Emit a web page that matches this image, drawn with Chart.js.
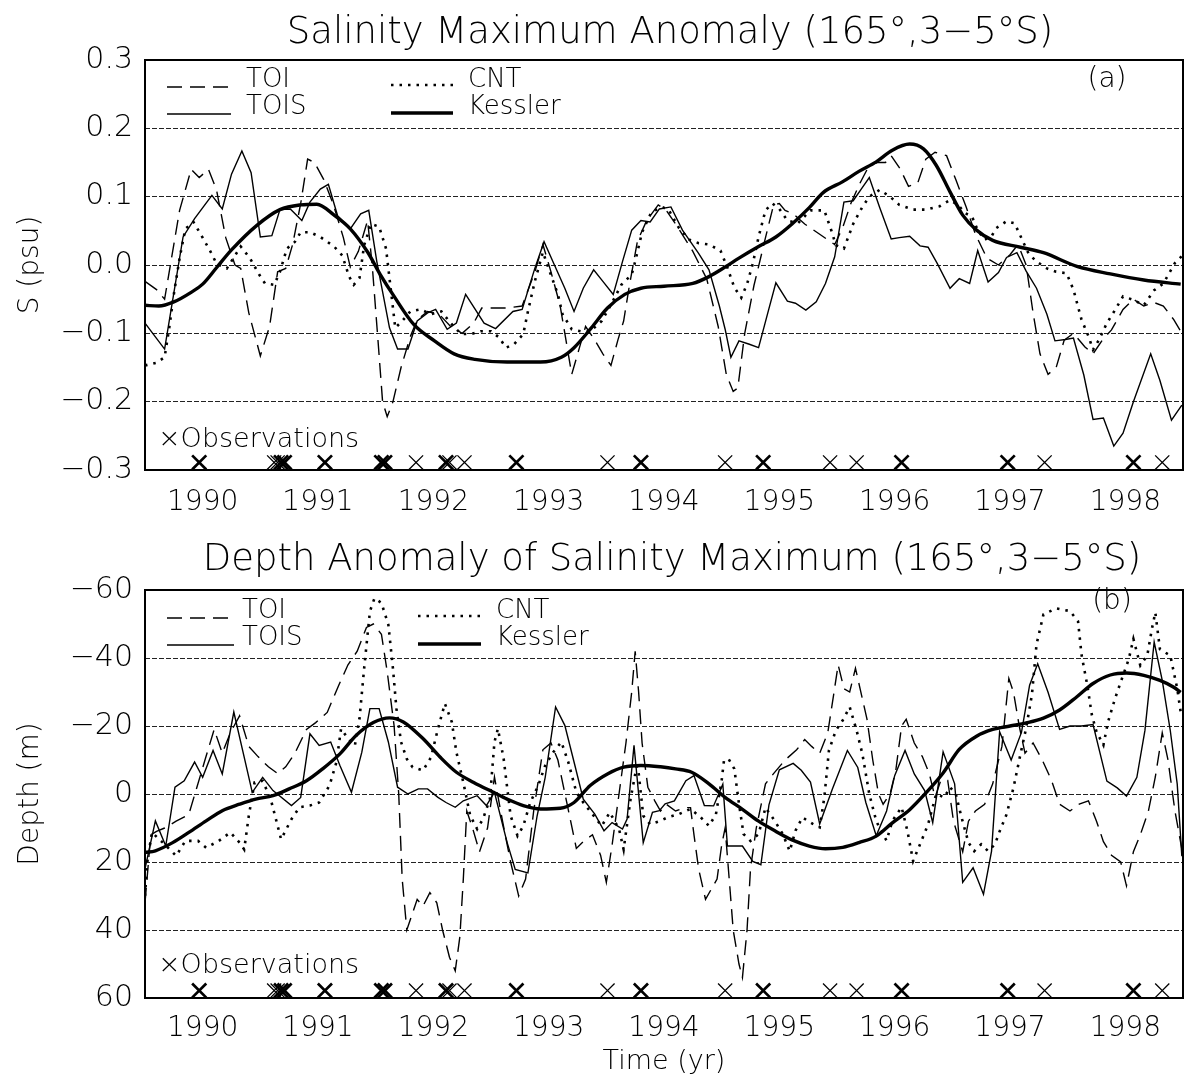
<!DOCTYPE html>
<html><head><meta charset="utf-8">
<script src="https://cdn.jsdelivr.net/npm/chart.js@4.4.1/dist/chart.umd.min.js"></script>
<style>
html,body{margin:0;padding:0;background:#fff;}
#wrap{position:relative;width:1185px;height:1081px;overflow:hidden;background:#fff;}
canvas{position:absolute;left:0;}
#c1{top:0;width:1185px;height:530px;}
#c2{top:530px;width:1185px;height:551px;}
</style></head><body>
<div id="wrap"><canvas id="c1" width="1185" height="530"></canvas><canvas id="c2" width="1185" height="551"></canvas></div>
<script>
const FONT = "'DejaVu Sans', 'Liberation Sans', sans-serif";
const FW = 200;

// ---- axis tick values ----
const tickYears = [1990,1991,1992,1993,1994,1995,1996,1997,1998];
const salTicks = [-0.3,-0.2,-0.1,0,0.1,0.2,0.3];
const depthTicks = [-60,-40,-20,0,20,40,60];

// ---- observation times (multiplicity -> bolder X) ----
const obsYears = [1990.47,1991.12,1991.15,1991.18,1991.21,1991.56,1992.05,1992.08,1992.35,1992.61,1992.64,1992.77,1993.22,1994.01,1994.30,1995.03,1995.36,1995.94,1996.17,1996.56,1997.48,1997.80,1998.57,1998.82];
const obsCount = [2,1,1,2,2,2,2,2,1,2,1,1,2,1,2,1,2,1,1,2,2,1,2,1];

// ---- (a) salinity maximum anomaly (psu) ----
const salTOI = [[1990.00,-0.024],[1990.10,-0.036],[1990.17,-0.050],[1990.30,0.080],[1990.40,0.140],[1990.47,0.128],[1990.55,0.140],[1990.62,0.110],[1990.70,0.040],[1990.78,0.000],[1990.83,-0.005],[1990.90,-0.070],[1991.00,-0.133],[1991.08,-0.090],[1991.15,-0.010],[1991.22,-0.005],[1991.28,0.030],[1991.35,0.090],[1991.41,0.155],[1991.47,0.150],[1991.55,0.125],[1991.63,0.090],[1991.72,0.040],[1991.78,-0.003],[1991.85,0.020],[1991.93,0.065],[1991.97,0.000],[1992.02,-0.110],[1992.06,-0.200],[1992.10,-0.222],[1992.15,-0.200],[1992.22,-0.150],[1992.30,-0.105],[1992.36,-0.080],[1992.45,-0.068],[1992.55,-0.072],[1992.65,-0.090],[1992.75,-0.100],[1992.85,-0.085],[1992.92,-0.063],[1993.13,-0.063],[1993.27,-0.060],[1993.38,-0.010],[1993.45,0.030],[1993.52,-0.010],[1993.60,-0.060],[1993.67,-0.130],[1993.70,-0.160],[1993.76,-0.125],[1993.82,-0.090],[1993.90,-0.110],[1993.97,-0.130],[1994.04,-0.147],[1994.10,-0.110],[1994.15,-0.082],[1994.20,-0.030],[1994.27,0.035],[1994.35,0.065],[1994.45,0.088],[1994.52,0.080],[1994.62,0.055],[1994.75,0.020],[1994.87,-0.020],[1994.97,-0.090],[1995.04,-0.160],[1995.10,-0.185],[1995.14,-0.180],[1995.20,-0.100],[1995.28,-0.030],[1995.38,0.040],[1995.45,0.088],[1995.50,0.090],[1995.55,0.080],[1995.62,0.075],[1995.72,0.060],[1995.85,0.045],[1995.98,0.030],[1996.05,0.055],[1996.12,0.090],[1996.20,0.120],[1996.28,0.146],[1996.35,0.150],[1996.42,0.150],[1996.47,0.160],[1996.55,0.140],[1996.62,0.115],[1996.70,0.120],[1996.77,0.155],[1996.85,0.165],[1996.95,0.160],[1997.03,0.125],[1997.12,0.085],[1997.20,0.045],[1997.30,0.010],[1997.40,0.000],[1997.50,0.015],[1997.57,0.030],[1997.64,0.000],[1997.70,-0.070],[1997.76,-0.130],[1997.83,-0.160],[1997.90,-0.150],[1997.97,-0.110],[1998.05,-0.100],[1998.15,-0.120],[1998.22,-0.130],[1998.30,-0.110],[1998.38,-0.095],[1998.48,-0.065],[1998.57,-0.050],[1998.66,-0.060],[1998.75,-0.055],[1998.83,-0.060],[1998.92,-0.080],[1998.99,-0.100]];
const salTOIS = [[1990.00,-0.085],[1990.17,-0.123],[1990.33,0.041],[1990.43,0.068],[1990.58,0.102],[1990.67,0.082],[1990.75,0.133],[1990.84,0.167],[1990.92,0.135],[1991.00,0.041],[1991.10,0.043],[1991.17,0.081],[1991.26,0.082],[1991.36,0.065],[1991.43,0.092],[1991.52,0.111],[1991.59,0.118],[1991.67,0.072],[1991.78,0.053],[1991.87,0.075],[1991.94,0.080],[1992.01,0.005],[1992.12,-0.092],[1992.19,-0.123],[1992.28,-0.123],[1992.36,-0.082],[1992.45,-0.070],[1992.52,-0.065],[1992.62,-0.094],[1992.70,-0.085],[1992.78,-0.043],[1992.94,-0.085],[1993.04,-0.093],[1993.19,-0.068],[1993.27,-0.065],[1993.38,-0.005],[1993.46,0.034],[1993.55,0.000],[1993.64,-0.034],[1993.72,-0.068],[1993.80,-0.034],[1993.89,-0.007],[1993.97,-0.024],[1994.06,-0.043],[1994.14,0.005],[1994.22,0.051],[1994.30,0.065],[1994.38,0.063],[1994.46,0.082],[1994.56,0.085],[1994.66,0.051],[1994.80,0.017],[1994.89,-0.007],[1994.98,-0.060],[1995.03,-0.094],[1995.08,-0.135],[1995.15,-0.111],[1995.24,-0.116],[1995.32,-0.121],[1995.40,-0.070],[1995.47,-0.026],[1995.57,-0.053],[1995.64,-0.056],[1995.73,-0.066],[1995.82,-0.054],[1995.90,-0.027],[1995.98,0.012],[1996.06,0.092],[1996.14,0.094],[1996.21,0.111],[1996.28,0.128],[1996.37,0.084],[1996.47,0.038],[1996.54,0.040],[1996.63,0.042],[1996.72,0.028],[1996.79,0.026],[1996.87,0.002],[1996.98,-0.034],[1997.06,-0.020],[1997.15,-0.027],[1997.22,0.021],[1997.31,-0.025],[1997.40,-0.011],[1997.47,0.011],[1997.56,0.018],[1997.64,-0.009],[1997.73,-0.034],[1997.82,-0.072],[1997.89,-0.111],[1997.98,-0.109],[1998.05,-0.107],[1998.14,-0.161],[1998.22,-0.226],[1998.31,-0.224],[1998.40,-0.265],[1998.48,-0.246],[1998.57,-0.200],[1998.72,-0.130],[1998.80,-0.169],[1998.90,-0.227],[1998.99,-0.205]];
const salCNT = [[1990.00,-0.147],[1990.10,-0.143],[1990.17,-0.135],[1990.21,-0.092],[1990.25,-0.043],[1990.30,0.010],[1990.35,0.053],[1990.42,0.063],[1990.49,0.043],[1990.57,0.019],[1990.62,0.002],[1990.71,-0.005],[1990.83,0.027],[1990.91,0.010],[1990.99,-0.014],[1991.04,-0.027],[1991.12,-0.029],[1991.17,-0.010],[1991.23,0.024],[1991.30,0.034],[1991.35,0.048],[1991.43,0.048],[1991.52,0.041],[1991.64,0.027],[1991.71,0.014],[1991.77,-0.017],[1991.81,-0.029],[1991.86,-0.019],[1991.90,0.029],[1991.96,0.060],[1992.03,0.056],[1992.09,0.024],[1992.13,-0.034],[1992.17,-0.092],[1992.23,-0.082],[1992.30,-0.068],[1992.39,-0.065],[1992.48,-0.072],[1992.57,-0.068],[1992.65,-0.085],[1992.74,-0.101],[1992.83,-0.101],[1992.91,-0.097],[1993.00,-0.097],[1993.07,-0.106],[1993.13,-0.121],[1993.20,-0.116],[1993.28,-0.101],[1993.32,-0.068],[1993.38,-0.024],[1993.45,0.019],[1993.51,-0.010],[1993.58,-0.043],[1993.62,-0.072],[1993.70,-0.094],[1993.78,-0.097],[1993.86,-0.097],[1993.96,-0.082],[1994.04,-0.058],[1994.13,-0.029],[1994.22,-0.014],[1994.25,0.005],[1994.31,0.048],[1994.39,0.077],[1994.48,0.085],[1994.54,0.081],[1994.63,0.054],[1994.72,0.037],[1994.80,0.032],[1994.89,0.030],[1994.99,0.021],[1995.05,-0.004],[1995.11,-0.033],[1995.17,-0.048],[1995.22,-0.028],[1995.27,0.002],[1995.32,0.041],[1995.38,0.080],[1995.44,0.090],[1995.50,0.082],[1995.57,0.065],[1995.66,0.061],[1995.77,0.080],[1995.89,0.080],[1995.95,0.051],[1995.99,0.029],[1996.06,0.024],[1996.14,0.060],[1996.22,0.085],[1996.28,0.100],[1996.37,0.110],[1996.46,0.100],[1996.54,0.088],[1996.66,0.081],[1996.77,0.081],[1996.89,0.086],[1996.98,0.095],[1997.05,0.088],[1997.11,0.076],[1997.17,0.071],[1997.22,0.051],[1997.28,0.037],[1997.34,0.042],[1997.38,0.054],[1997.47,0.064],[1997.54,0.061],[1997.60,0.039],[1997.66,0.017],[1997.73,0.005],[1997.82,-0.005],[1997.90,-0.010],[1997.99,-0.012],[1998.05,-0.036],[1998.12,-0.080],[1998.18,-0.104],[1998.22,-0.124],[1998.27,-0.110],[1998.34,-0.085],[1998.41,-0.066],[1998.48,-0.046],[1998.57,-0.051],[1998.66,-0.059],[1998.75,-0.037],[1998.83,-0.027],[1998.93,0.003],[1998.99,0.013]];
const salKessler = [[1990.00,-0.059],[1990.12,-0.060],[1990.25,-0.054],[1990.40,-0.040],[1990.50,-0.028],[1990.62,-0.004],[1990.75,0.022],[1990.97,0.058],[1991.17,0.081],[1991.35,0.088],[1991.49,0.089],[1991.64,0.073],[1991.78,0.053],[1991.93,0.019],[1992.04,-0.014],[1992.16,-0.046],[1992.33,-0.087],[1992.51,-0.111],[1992.68,-0.130],[1992.86,-0.138],[1993.14,-0.142],[1993.43,-0.142],[1993.61,-0.135],[1993.72,-0.121],[1993.87,-0.092],[1994.01,-0.063],[1994.16,-0.043],[1994.30,-0.034],[1994.50,-0.031],[1994.75,-0.027],[1994.89,-0.017],[1995.03,-0.003],[1995.15,0.010],[1995.32,0.027],[1995.47,0.041],[1995.61,0.060],[1995.76,0.084],[1995.88,0.106],[1996.05,0.122],[1996.19,0.137],[1996.34,0.151],[1996.48,0.168],[1996.63,0.177],[1996.75,0.170],[1996.86,0.146],[1996.98,0.107],[1997.09,0.073],[1997.21,0.051],[1997.35,0.036],[1997.59,0.026],[1997.79,0.018],[1998.08,-0.002],[1998.37,-0.013],[1998.66,-0.022],[1998.98,-0.028]];

// ---- (b) depth anomaly of salinity maximum (m) ----
const depTOI = [[1990.00,32],[1990.05,12],[1990.10,11],[1990.17,10],[1990.27,8],[1990.38,6],[1990.45,-2],[1990.52,-10],[1990.60,-19],[1990.67,-12],[1990.74,-18],[1990.82,-23],[1990.90,-14],[1990.98,-11],[1991.07,-8],[1991.15,-6],[1991.22,-8],[1991.30,-12],[1991.40,-19],[1991.48,-21],[1991.58,-24],[1991.68,-32],[1991.76,-38],[1991.84,-42],[1991.92,-49],[1991.98,-50],[1992.05,-47],[1992.10,-36],[1992.16,-20],[1992.20,0],[1992.23,25],[1992.27,40],[1992.31,36],[1992.36,31],[1992.41,33],[1992.47,29],[1992.53,32],[1992.58,40],[1992.64,48],[1992.69,52],[1992.73,42],[1992.76,25],[1992.79,5],[1992.84,10],[1992.90,17],[1992.97,10],[1993.03,-5],[1993.10,8],[1993.17,20],[1993.24,30],[1993.30,25],[1993.37,5],[1993.45,-13],[1993.52,-15],[1993.58,-10],[1993.66,3],[1993.74,16],[1993.80,14],[1993.88,12],[1993.95,18],[1994.00,26],[1994.05,15],[1994.11,0],[1994.17,-15],[1994.22,-30],[1994.25,-42],[1994.28,-30],[1994.31,-15],[1994.36,-2],[1994.42,2],[1994.47,5],[1994.52,3],[1994.60,5],[1994.68,4],[1994.73,4],[1994.76,12],[1994.80,22],[1994.86,31],[1994.96,25],[1995.00,15],[1995.03,10],[1995.07,27],[1995.10,40],[1995.15,50],[1995.18,54],[1995.22,40],[1995.25,22],[1995.30,10],[1995.38,-3],[1995.45,-6],[1995.55,-10],[1995.65,-13],[1995.72,-16],[1995.78,-14],[1995.85,-12],[1995.92,-18],[1995.97,-29],[1996.01,-38],[1996.06,-31],[1996.11,-30],[1996.16,-37],[1996.20,-31],[1996.26,-22],[1996.31,-10],[1996.36,0],[1996.40,3],[1996.46,0],[1996.51,-7],[1996.56,-20],[1996.60,-22],[1996.67,-15],[1996.74,-11],[1996.80,-6],[1996.85,1],[1996.90,-4],[1996.96,-4],[1997.01,8],[1997.09,17],[1997.14,8],[1997.20,5],[1997.28,3],[1997.35,-3],[1997.43,-14],[1997.49,-34],[1997.53,-30],[1997.58,-20],[1997.63,-12],[1997.70,-15],[1997.78,-10],[1997.86,-4],[1997.93,3],[1998.02,5],[1998.10,3],[1998.18,2],[1998.25,8],[1998.31,14],[1998.38,18],[1998.46,20],[1998.51,27],[1998.57,17],[1998.63,12],[1998.70,5],[1998.76,-5],[1998.82,-18],[1998.87,-10],[1998.93,5],[1999.00,18]];
const depTOIS = [[1990.00,22],[1990.09,7.9],[1990.18,15.3],[1990.26,-2],[1990.34,-3.9],[1990.43,-9.4],[1990.50,-4.9],[1990.59,-12.8],[1990.67,-5.9],[1990.77,-24.1],[1990.85,-12.3],[1990.93,-0.5],[1991.02,-4.9],[1991.11,-1.0],[1991.27,3.4],[1991.35,1.0],[1991.43,-17.7],[1991.51,-14.3],[1991.61,-15.3],[1991.69,-8.4],[1991.79,-0.5],[1991.88,-12.3],[1991.95,-25.1],[1992.03,-25.1],[1992.11,-15.3],[1992.19,-2],[1992.28,0],[1992.37,-1.5],[1992.45,-1.5],[1992.54,1],[1992.61,2.5],[1992.69,3.9],[1992.76,2],[1992.80,1.5],[1992.88,0.5],[1992.96,3.4],[1993.03,-0.5],[1993.14,14.3],[1993.21,22.2],[1993.32,23.2],[1993.40,6.4],[1993.47,-4.9],[1993.56,-25.6],[1993.64,-20.2],[1993.72,-9.4],[1993.80,1.5],[1993.90,5.9],[1993.98,10.8],[1994.05,8.4],[1994.14,10.3],[1994.18,7.4],[1994.24,-14.3],[1994.32,14.3],[1994.40,5.4],[1994.46,4.9],[1994.51,2.9],[1994.59,2.0],[1994.69,-3.9],[1994.76,-5.4],[1994.85,3.4],[1994.93,3.5],[1995.01,-2.9],[1995.05,15.3],[1995.18,15.3],[1995.27,19.8],[1995.34,20.8],[1995.41,3.2],[1995.50,-7.1],[1995.62,-9.0],[1995.69,-7.0],[1995.77,-3.5],[1995.85,8.8],[1995.96,-1.5],[1996.09,-12.8],[1996.18,-7.8],[1996.25,2.5],[1996.34,12.3],[1996.43,5.0],[1996.50,-5.4],[1996.59,-12.8],[1996.67,-5.9],[1996.76,-1.0],[1996.83,8.4],[1996.92,-12.4],[1997.02,-3.0],[1997.09,26.0],[1997.18,21.7],[1997.27,29.5],[1997.34,16.8],[1997.41,-18.3],[1997.51,-10.0],[1997.60,-18.2],[1997.67,-32.0],[1997.74,-38.3],[1997.83,-29.9],[1997.93,-19.0],[1998.02,-20.0],[1998.12,-20.0],[1998.22,-20.4],[1998.34,-3.8],[1998.43,-1.8],[1998.51,0.6],[1998.60,-4.9],[1998.67,-18.7],[1998.75,-44.7],[1998.82,-33.4],[1998.89,-18.6],[1998.95,-2.9],[1998.99,18.3]];
const depCNT = [[1990.00,30],[1990.02,20],[1990.06,11.3],[1990.17,14.8],[1990.27,18.2],[1990.35,13.8],[1990.46,13.8],[1990.53,15.8],[1990.64,13.8],[1990.74,11.3],[1990.82,14.3],[1990.86,16.3],[1990.90,6.4],[1990.95,-3.4],[1991.02,-3.9],[1991.09,1.5],[1991.18,13.3],[1991.27,7.4],[1991.34,3.9],[1991.43,3.4],[1991.51,2.5],[1991.60,-2.5],[1991.66,-9.4],[1991.70,-19.2],[1991.76,-16.3],[1991.82,-14.3],[1991.86,-22.2],[1991.90,-36.9],[1991.95,-53.7],[1991.99,-57.6],[1992.05,-56.2],[1992.11,-49.8],[1992.15,-36.9],[1992.18,-25.1],[1992.22,-15.3],[1992.27,-10.3],[1992.32,-7.9],[1992.41,-6.9],[1992.48,-10.8],[1992.54,-19.2],[1992.60,-26.6],[1992.66,-21.2],[1992.70,-12.3],[1992.76,-3.4],[1992.82,6.4],[1992.88,10.3],[1992.93,7.4],[1992.99,1.5],[1993.03,-15.3],[1993.06,-19.2],[1993.11,-10.3],[1993.17,6.4],[1993.23,12.3],[1993.28,9.4],[1993.34,2.5],[1993.41,-2.5],[1993.47,-8.4],[1993.54,-12.3],[1993.61,-15.3],[1993.67,-9.4],[1993.74,-0.5],[1993.80,2.5],[1993.89,6.4],[1993.96,9.4],[1994.03,5.4],[1994.11,10.3],[1994.15,16.3],[1994.21,1.5],[1994.27,-9.4],[1994.32,6.4],[1994.38,8.9],[1994.46,8.0],[1994.53,6.9],[1994.63,5.9],[1994.73,4.4],[1994.82,6.9],[1994.89,9.4],[1994.95,6.0],[1995.00,-4.0],[1995.02,-9.8],[1995.06,-10.3],[1995.11,-7.4],[1995.15,2.9],[1995.19,11.8],[1995.25,13.8],[1995.32,11.8],[1995.38,4.0],[1995.46,7.9],[1995.53,11.8],[1995.59,16.8],[1995.64,10.8],[1995.70,6.9],[1995.79,8.8],[1995.85,9.8],[1995.89,1.0],[1995.93,-12.8],[1995.99,-18.7],[1996.05,-21.7],[1996.11,-25.6],[1996.17,-18.7],[1996.22,-11.8],[1996.28,0],[1996.34,7.9],[1996.38,10.8],[1996.43,13.7],[1996.48,7.9],[1996.56,3.9],[1996.61,10.8],[1996.66,19.7],[1996.72,14.8],[1996.79,8.9],[1996.86,0],[1996.93,1.0],[1996.98,-2.0],[1997.03,0],[1997.08,6.9],[1997.14,14.3],[1997.19,16.8],[1997.25,14.8],[1997.31,16.8],[1997.37,14.8],[1997.41,11.0],[1997.47,6.0],[1997.53,-1.8],[1997.59,-11.6],[1997.64,-19.4],[1997.69,-29.2],[1997.73,-44.0],[1997.79,-52.8],[1997.90,-54.6],[1998.02,-53.8],[1998.09,-50.8],[1998.12,-41.0],[1998.17,-32.0],[1998.21,-23.2],[1998.25,-18.3],[1998.31,-14.4],[1998.35,-21.2],[1998.41,-28.0],[1998.47,-33.9],[1998.53,-39.7],[1998.57,-45.6],[1998.63,-37.8],[1998.69,-40.7],[1998.73,-48.5],[1998.76,-53.4],[1998.80,-42.6],[1998.89,-40.7],[1998.95,-31.0],[1998.98,-24.1]];
const depKessler = [[1990.00,17.2],[1990.09,16.7],[1990.24,14.3],[1990.38,11.3],[1990.53,7.9],[1990.67,4.9],[1990.82,3.0],[1990.96,1.5],[1991.11,0.5],[1991.25,-1.5],[1991.40,-3.9],[1991.54,-7.4],[1991.69,-11.8],[1991.83,-17.2],[1991.98,-21.0],[1992.12,-22.4],[1992.24,-21.2],[1992.41,-16.3],[1992.56,-10.8],[1992.70,-6.4],[1992.85,-3.4],[1993.02,-0.5],[1993.14,1.5],[1993.28,3.4],[1993.43,4.4],[1993.60,4.2],[1993.72,2.5],[1993.86,-2.5],[1994.01,-5.9],[1994.15,-7.9],[1994.30,-8.4],[1994.47,-8.0],[1994.60,-7.4],[1994.74,-6.4],[1994.89,-3.0],[1995.03,1.0],[1995.18,4.5],[1995.32,8.0],[1995.47,11.0],[1995.61,13.5],[1995.76,15.3],[1995.90,16.1],[1996.05,15.7],[1996.19,14.3],[1996.34,12.4],[1996.48,8.5],[1996.63,4.6],[1996.77,-0.3],[1996.92,-6.2],[1997.06,-13.1],[1997.21,-17.0],[1997.35,-19.0],[1997.50,-20.0],[1997.64,-20.9],[1997.79,-22.3],[1997.93,-24.7],[1998.08,-28.6],[1998.22,-32.5],[1998.37,-35.0],[1998.51,-35.6],[1998.66,-34.9],[1998.80,-33.4],[1998.92,-31.4],[1998.98,-29.9]];

const seriesNames = ['TOI','TOIS','CNT','Kessler'];
const seriesStyle = {
  TOI:     {dash:[15,8], width:1.4},
  TOIS:    {dash:[], width:1.4},
  CNT:     {dash:[2.5,6], width:2.6},
  Kessler: {dash:[], width:3.4}
};

const toPts = arr => arr.map(p => ({x:p[0], y:p[1]}));
const minusFmt = s => s.replace('-', '\u2212');

const decorPlugin = {
  id:'decor',
  afterDraw(chart){
    const s = chart.options.plugins.decor; if(!s) return;
    const ctx = chart.ctx, a = chart.chartArea;
    ctx.save();
    ctx.setLineDash([]);
    ctx.strokeStyle = '#000'; ctx.lineWidth = 2;
    ctx.strokeRect(a.left, a.top, a.right - a.left, a.bottom - a.top);
    ctx.fillStyle = '#000';
    // title
    ctx.font = FW + ' 37px ' + FONT; ctx.textAlign = 'center'; ctx.textBaseline = 'alphabetic';
    ctx.fillText(s.title, s.titleX, s.titleY);
    // legend
    ctx.font = FW + ' 26px ' + FONT; ctx.textAlign = 'left';
    s.legend.forEach(it => {
      const st = seriesStyle[it.name];
      ctx.beginPath(); ctx.setLineDash(st.dash); ctx.lineWidth = st.width;
      ctx.moveTo(a.left + it.x0, a.top + it.ly); ctx.lineTo(a.left + it.x1, a.top + it.ly); ctx.stroke();
      ctx.setLineDash([]);
      ctx.fillText(it.name, a.left + it.tx, a.top + it.ty);
    });
    // panel label
    ctx.font = FW + ' 28px ' + FONT; ctx.textAlign = 'center'; ctx.textBaseline = 'middle';
    ctx.fillText(s.panel, a.right - s.panelDx, a.top + s.panelDy);
    // observations label
    ctx.font = FW + ' 27px ' + FONT; ctx.textAlign = 'left'; ctx.textBaseline = 'alphabetic';
    ctx.fillText('\u00d7Observations', a.left + 13, a.bottom - s.obsDy);
    ctx.restore();
  }
};

function makePanel(canvas, cfg){
  const ds = cfg.series.map((arr, i) => {
    const st = seriesStyle[seriesNames[i]];
    return {
      label: seriesNames[i], data: toPts(arr), borderColor:'#000', borderWidth: st.width,
      borderDash: st.dash, pointRadius:0, fill:false,
      tension: seriesNames[i] === 'Kessler' ? 0.4 : 0,
      cubicInterpolationMode: seriesNames[i] === 'Kessler' ? 'monotone' : 'default'
    };
  });
  ds.push({
    label:'Observations', data: obsYears.map(t => ({x:t, y:cfg.obsLevel})),
    showLine:false, pointStyle:'crossRot', pointRadius:10, borderColor:'#000',
    pointBorderColor:'#000', pointBorderWidth: c => 1.3 + 1.4 * (obsCount[c.dataIndex] - 1), clip:false
  });
  return new Chart(canvas, {
    type:'line',
    data:{datasets: ds},
    plugins:[decorPlugin],
    options:{
      responsive:false, devicePixelRatio:1, animation:false, events:[],
      layout:{autoPadding:false, padding:{top:cfg.padTop, right:2, left:0, bottom:0}},
      plugins:{legend:{display:false}, tooltip:{enabled:false}, title:{display:false}, decor: cfg.decor},
      scales:{
        x:{
          type:'linear', min:1990, max:1999,
          afterBuildTicks: sc => { sc.ticks = tickYears.map(y => ({value: y + 0.5})); },
          afterFit: sc => { sc.height = cfg.xHeight; sc.paddingLeft = 0; sc.paddingRight = 0; },
          ticks:{autoSkip:false, maxRotation:0, padding:cfg.xPad, color:'#000',
                 font:{family:FONT, size:28, weight:FW}, callback: v => String(Math.floor(v))},
          grid:{display:false, drawTicks:false}, border:{display:false},
          title:{display: !!cfg.xTitle, text: cfg.xTitle || '', color:'#000',
                 font:{family:FONT, size:27, weight:FW}, padding:{top:0, bottom:3}}
        },
        y:{
          type:'linear', min:cfg.yMin, max:cfg.yMax, reverse:cfg.reverse,
          afterBuildTicks: sc => { sc.ticks = cfg.yTicks.map(v => ({value:v})); },
          afterFit: sc => { sc.width = 145; sc.paddingTop = 0; sc.paddingBottom = 0; },
          ticks:{padding:12, color:'#000', font:{family:FONT, size:30, weight:FW},
                 callback: v => minusFmt(cfg.fmt(v))},
          grid:{drawTicks:false, lineWidth:1,
                color: c => (c.tick && (c.tick.value === cfg.yMin || c.tick.value === cfg.yMax)) ? 'rgba(0,0,0,0)' : '#222'},
          border:{display:false, dash:[5,2]},
          title:{display:true, text:cfg.yTitle, color:'#000', font:{family:FONT, size:28, weight:FW}, padding:{top:14, bottom:0}}
        }
      }
    }
  });
}

makePanel(document.getElementById('c1'), {
  series:[salTOI, salTOIS, salCNT, salKessler],
  yMin:-0.3, yMax:0.3, reverse:false, yTicks:salTicks, fmt: v => v.toFixed(1),
  yTitle:'S (psu)', obsLevel:-0.289, padTop:60, xHeight:60, xPad:16,
  decor:{
    title:'Salinity Maximum Anomaly (165\u00b0,3\u22125\u00b0S)', titleX:670, titleY:43,
    legend:[
      {name:'TOI', x0:22, x1:86, ly:27, tx:101, ty:27},
      {name:'TOIS', x0:22, x1:86, ly:54, tx:101, ty:54},
      {name:'CNT', x0:246, x1:310, ly:25, tx:323, ty:27},
      {name:'Kessler', x0:246, x1:308, ly:53, tx:323, ty:54}
    ],
    panel:'(a)', panelDx:76, panelDy:20, obsDy:23
  }
});

makePanel(document.getElementById('c2'), {
  series:[depTOI, depTOIS, depCNT, depKessler],
  yMin:-60, yMax:60, reverse:true, yTicks:depthTicks, fmt: v => String(v),
  yTitle:'Depth (m)', obsLevel:57.8, padTop:60, xHeight:83, xPad:14, xTitle:'Time (yr)',
  decor:{
    title:'Depth Anomaly of Salinity Maximum (165\u00b0,3\u22125\u00b0S)', titleX:672, titleY:40,
    legend:[
      {name:'TOI', x0:22, x1:89, ly:28, tx:97, ty:28},
      {name:'TOIS', x0:22, x1:89, ly:55, tx:97, ty:55},
      {name:'CNT', x0:273, x1:336, ly:26, tx:351, ty:28},
      {name:'Kessler', x0:273, x1:336, ly:54, tx:351, ty:55}
    ],
    panel:'(b)', panelDx:71, panelDy:12, obsDy:25
  }
});
</script>
</body></html>
